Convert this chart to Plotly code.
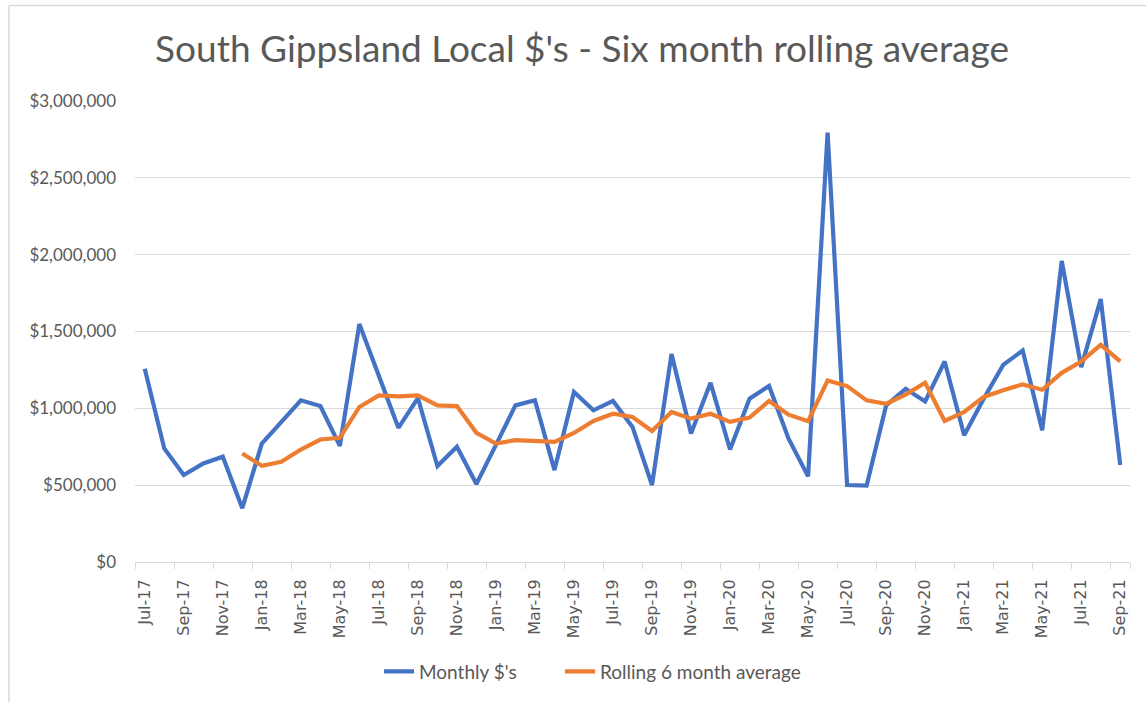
import plotly.graph_objects as go

months = ["Jul-17","Aug-17","Sep-17","Oct-17","Nov-17","Dec-17",
          "Jan-18","Feb-18","Mar-18","Apr-18","May-18","Jun-18","Jul-18","Aug-18","Sep-18","Oct-18","Nov-18","Dec-18",
          "Jan-19","Feb-19","Mar-19","Apr-19","May-19","Jun-19","Jul-19","Aug-19","Sep-19","Oct-19","Nov-19","Dec-19",
          "Jan-20","Feb-20","Mar-20","Apr-20","May-20","Jun-20","Jul-20","Aug-20","Sep-20","Oct-20","Nov-20","Dec-20",
          "Jan-21","Feb-21","Mar-21","Apr-21","May-21","Jun-21","Jul-21","Aug-21","Sep-21"]

monthly = [1257000, 739000, 566000, 641000, 685000, 350000,
           771000, 912000, 1052000, 1015000, 756000, 1549000, 1205000, 873000, 1067000, 624000, 750000, 508000,
           762000, 1019000, 1052000, 598000, 1106000, 987000, 1048000, 879000, 501000, 1354000, 836000, 1166000,
           732000, 1063000, 1145000, 803000, 557000, 2795000, 501000, 497000, 1019000, 1127000, 1045000, 1305000,
           825000, 1063000, 1283000, 1376000, 857000, 1959000, 1268000, 1711000, 631000]

rolling = [None, None, None, None, None, 706000,
           626000, 652000, 732000, 797000, 808000, 1009000, 1084000, 1078000, 1084000, 1019000, 1015000, 841000,
           771000, 793000, 786000, 782000, 840000, 918000, 965000, 944000, 853000, 976000, 933000, 965000,
           912000, 940000, 1048000, 959000, 916000, 1181000, 1145000, 1052000, 1030000, 1089000, 1166000, 918000,
           976000, 1074000, 1117000, 1156000, 1121000, 1231000, 1305000, 1413000, 1305000]

y_ticks = [0, 500000, 1000000, 1500000, 2000000, 2500000, 3000000]

idx = list(range(len(months)))
label_idx = idx[::2]
label_txt = months[::2]

W, H = 1146, 702
L, R, T, B = 135, 1130, 101, 564   # plot area in page pixels
pw, ph = R - L, B - T

def px(x):
    return (x - L) / pw

def py(y):
    return (B - y) / ph

fig = go.Figure()
fig.add_trace(go.Scatter(x=idx, y=monthly, mode="lines", name="Monthly $'s",
                         line=dict(color="#4472C4", width=4.2),
                         hovertext=months, legend="legend"))
fig.add_trace(go.Scatter(x=idx, y=rolling, mode="lines", name="Rolling 6 month average",
                         line=dict(color="#ED7D31", width=4.2),
                         hovertext=months, legend="legend2"))

grey = "#595959"
leg_font = dict(family="Lato, sans-serif", size=19, color=grey)
fig.update_layout(
    width=W, height=H,
    margin=dict(l=L, r=W - R, t=T, b=H - B),
    paper_bgcolor="white", plot_bgcolor="white",
    font=dict(family="Lato, sans-serif", color=grey),
    title=dict(text="South Gippsland Local $'s - Six month rolling average",
               x=582 / W, xanchor="center", xref="container", y=1 - 49 / H, yanchor="middle",
               font=dict(family="Lato, sans-serif", size=37, color=grey)),
    legend=dict(orientation="h", x=px(379), xanchor="left", y=py(674), yanchor="middle",
                font=leg_font, bgcolor="rgba(0,0,0,0)"),
    legend2=dict(orientation="h", x=px(560), xanchor="left", y=py(674), yanchor="middle",
                 font=leg_font, bgcolor="rgba(0,0,0,0)"),
    showlegend=True,
)
fig.update_xaxes(
    range=[-0.5, len(months) - 0.5],
    tickmode="array", tickvals=label_idx, ticktext=label_txt,
    tickangle=-90, tickfont=dict(family="DejaVu Sans, sans-serif", size=16, color=grey),
    showgrid=False, zeroline=False,
    showline=True, linecolor="#d9d9d9", linewidth=1,
    ticks="", ticklen=0, ticklabelstandoff=10,
    minor=dict(tickvals=[i - 0.5 for i in label_idx] + [len(months) - 0.5], ticks="outside",
               ticklen=6, tickcolor="#d9d9d9", showgrid=False),
)
fig.update_yaxes(
    range=[0, 3000000],
    tickmode="array", tickvals=y_ticks,
    ticktext=["$" + format(v, ",") for v in y_ticks],
    tickfont=dict(family="Lato, sans-serif", size=17, color=grey),
    showgrid=True, gridcolor="#d9d9d9", gridwidth=1,
    zeroline=False, showline=False, ticks="", ticklabelstandoff=18,
)
# chart frame (left and top border)
fig.add_shape(type="line", xref="paper", yref="paper",
              x0=px(9), x1=px(9), y0=py(H + 5), y1=py(5),
              line=dict(color="#d9d9d9", width=1.5))
fig.add_shape(type="line", xref="paper", yref="paper",
              x0=px(9), x1=px(W + 5), y0=py(5), y1=py(5),
              line=dict(color="#d9d9d9", width=1.5))

fig.write_html("out.html", config={"displayModeBar": False},
               post_script="document.body.style.margin='0px';document.body.style.overflow='hidden';")
